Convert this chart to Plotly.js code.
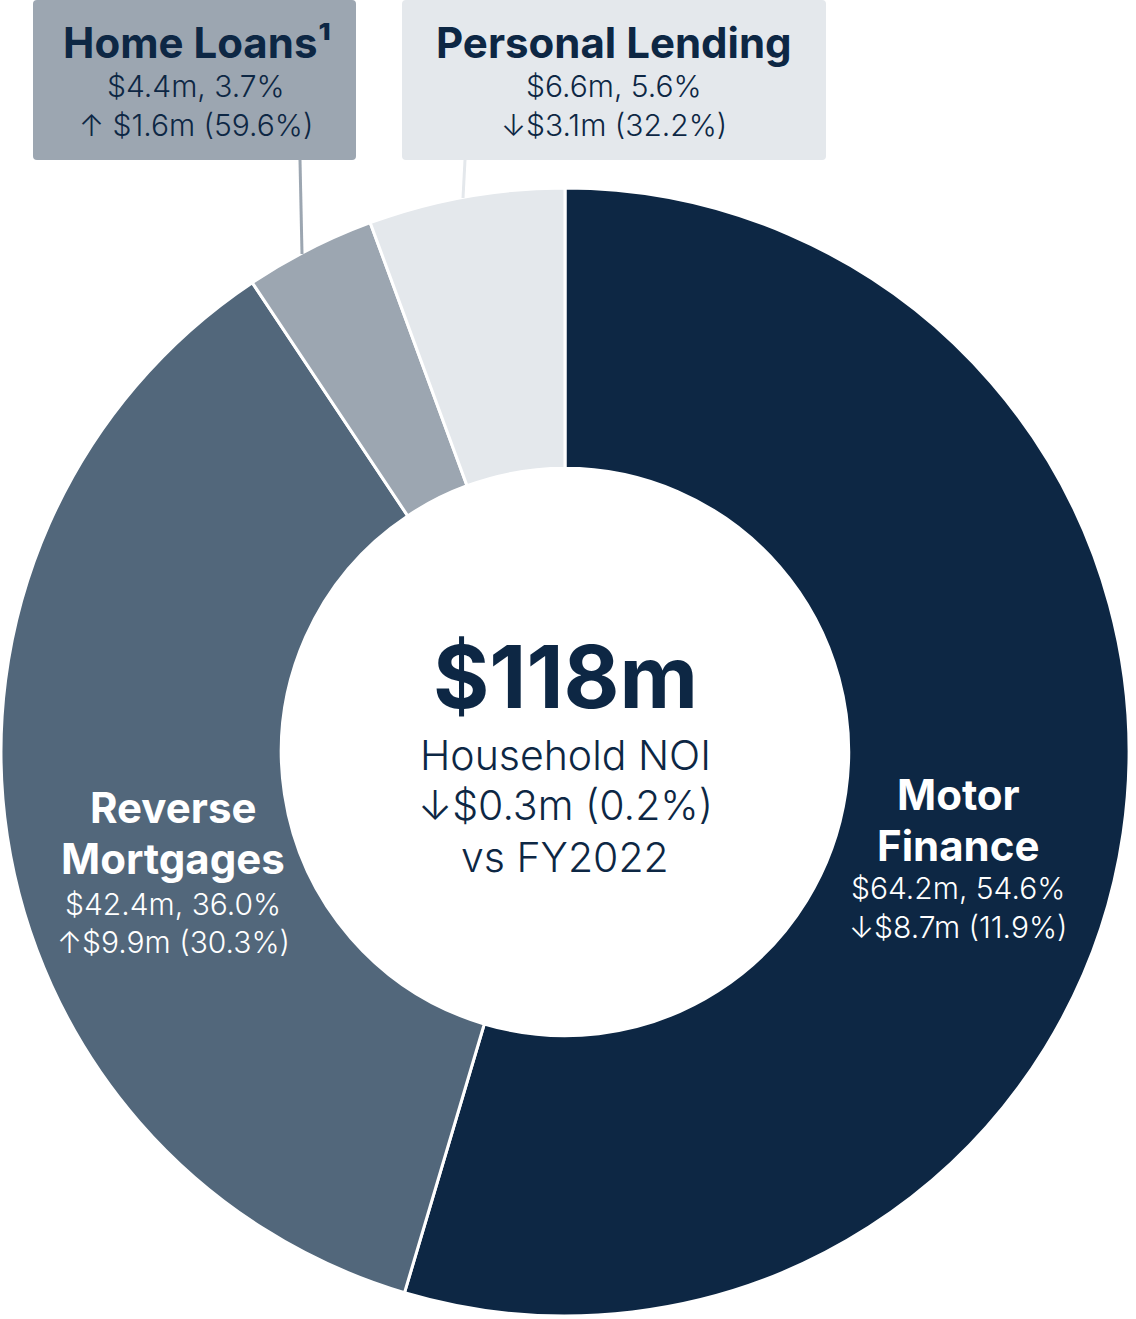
<!DOCTYPE html>
<html>
<head>
<meta charset="utf-8">
<script src="https://cdn.plot.ly/plotly-3.0.1.min.js"></script>
<style>
html,body{margin:0;padding:0;background:#fff;}
#chart{width:1136px;height:1319px;}
</style>
</head>
<body>
<div id="chart"></div>
<script>
// ---- data ----
const segments = ["Motor Finance", "Reverse Mortgages", "Home Loans", "Personal Lending"];
const values = [64.2, 42.4, 4.4, 6.6];
const shares = ["54.6%", "36.0%", "3.7%", "5.6%"];
const changeDir = ["down", "up", "up", "down"];
const changeAmt = [8.7, 9.9, 1.6, 3.1];
const changePct = ["11.9%", "30.3%", "59.6%", "32.2%"];
const totalLabel = "$118m";
const totalLines = ["Household NOI", "↓$0.3m (0.2%)", "vs FY2022"];
const colors = ["#0d2744", "#52677b", "#9ca6b1", "#e4e8ec"];

const W = 1136, H = 1319;
const px = x => x / W;
const py = y => 1 - y / H;
const NAVY = "#0d2744";
const FONT = "Inter, 'Open Sans', sans-serif";

const arrow = (d, spaced) => (d === "up" ? "↑" : "↓") + (spaced ? " " : "");
const line1 = i => "$" + values[i].toFixed(1) + "m, " + shares[i];
const line2 = (i, spaced) => arrow(changeDir[i], spaced) + "$" + changeAmt[i].toFixed(1) + "m (" + changePct[i] + ")";

const trace = {
  type: "pie",
  labels: segments,
  values: values,
  sort: false,
  direction: "clockwise",
  rotation: 0,
  hole: 0.503,
  textinfo: "none",
  hoverinfo: "none",
  marker: {colors: colors, line: {color: "#ffffff", width: 3}},
  domain: {x: [px(1), px(1129)], y: [py(1316), py(188)]},
  showlegend: false
};

const ann = [];
function txt(x, y, text, size, color, bold) {
  ann.push({
    xref: "paper", yref: "paper", x: px(x), y: py(y),
    xanchor: "center", yanchor: "middle", showarrow: false,
    text: text,
    font: {family: FONT, size: size, color: color, weight: bold ? 700 : 300}
  });
}

// centre
txt(565, 677, totalLabel, 86, NAVY, true);
txt(565, 755, totalLines[0], 41, NAVY, false);
txt(565, 805, totalLines[1], 41, NAVY, false);
txt(565, 857, totalLines[2], 41, NAVY, false);

// Motor Finance
txt(958, 794, "Motor", 42, "#ffffff", true);
txt(958, 845, "Finance", 42, "#ffffff", true);
txt(958, 888, line1(0), 30, "#ffffff", false);
txt(958, 927, line2(0, false), 30, "#ffffff", false);

// Reverse Mortgages
txt(173, 807, "Reverse", 42, "#ffffff", true);
txt(173, 858, "Mortgages", 42, "#ffffff", true);
txt(173, 904, line1(1), 30, "#ffffff", false);
txt(173, 942, line2(1, false), 30, "#ffffff", false);

// Home Loans box
txt(197, 42, "Home Loans¹", 42, NAVY, true);
txt(196, 86, line1(2), 30, NAVY, false);
txt(196, 125, line2(2, true), 30, NAVY, false);

// Personal Lending box
txt(614, 42, "Personal Lending", 42, NAVY, true);
txt(614, 86, line1(3), 30, NAVY, false);
txt(614, 125, line2(3, false), 30, NAVY, false);

function roundRect(x0, y0, x1, y1, r) {
  const X0 = px(x0), X1 = px(x1), Y0 = py(y0), Y1 = py(y1);
  const rx = r / W, ry = r / H;
  return "M" + (X0 + rx) + "," + Y0 + " L" + (X1 - rx) + "," + Y0 +
    " Q" + X1 + "," + Y0 + " " + X1 + "," + (Y0 - ry) +
    " L" + X1 + "," + (Y1 + ry) + " Q" + X1 + "," + Y1 + " " + (X1 - rx) + "," + Y1 +
    " L" + (X0 + rx) + "," + Y1 + " Q" + X0 + "," + Y1 + " " + X0 + "," + (Y1 + ry) +
    " L" + X0 + "," + (Y0 - ry) + " Q" + X0 + "," + Y0 + " " + (X0 + rx) + "," + Y0 + " Z";
}

const shapes = [
  {type: "path", xref: "paper", yref: "paper", path: roundRect(33, 0, 356, 160, 4),
   fillcolor: colors[2], line: {width: 0}, layer: "below"},
  {type: "path", xref: "paper", yref: "paper", path: roundRect(402, 0, 826, 160, 4),
   fillcolor: colors[3], line: {width: 0}, layer: "below"},
  {type: "line", xref: "paper", yref: "paper", x0: px(300), x1: px(302), y0: py(160), y1: py(254),
   line: {color: colors[2], width: 3}},
  {type: "line", xref: "paper", yref: "paper", x0: px(465), x1: px(463), y0: py(160), y1: py(198),
   line: {color: colors[3], width: 3}}
];

const layout = {
  width: W, height: H,
  margin: {l: 0, r: 0, t: 0, b: 0},
  paper_bgcolor: "#ffffff",
  plot_bgcolor: "#ffffff",
  annotations: ann,
  shapes: shapes,
  font: {family: FONT}
};

Plotly.newPlot("chart", [trace], layout, {displayModeBar: false, staticPlot: true});
</script>
</body>
</html>
